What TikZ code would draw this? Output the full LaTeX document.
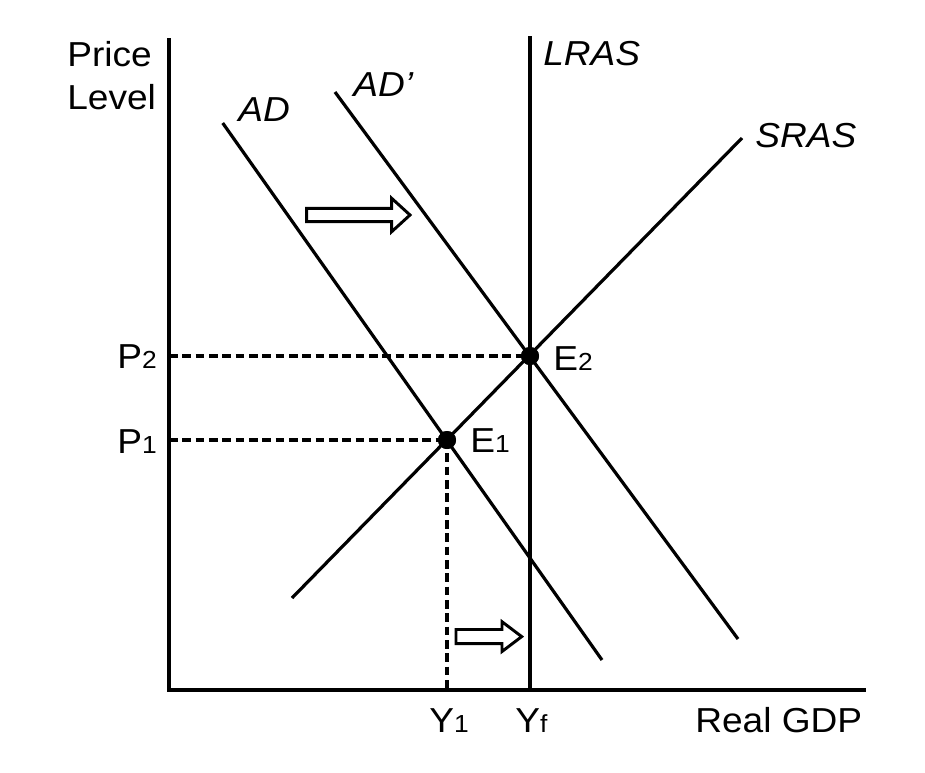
\documentclass[tikz,border=0pt]{standalone}
\usepackage{fontspec}
\setmainfont[FakeStretch=1.07]{Liberation Sans}
\newcommand\subd[1]{{\fontsize{18.5}{20}\selectfont #1}}
\begin{document}
\begin{tikzpicture}[x=0.75pt,y=-0.75pt,
  axis/.style={line width=2.8pt},
  curve/.style={line width=2.4pt},
  guide/.style={line width=2.6pt, dash pattern=on 6.5pt off 3.5pt},
  dot/.style={circle, fill=black, minimum size=13.5pt, inner sep=0pt},
  lbl/.style={anchor=base west, inner sep=0pt, font=\fontsize{26}{30}\selectfont},
  ilbl/.style={lbl, font=\fontsize{26}{30}\selectfont\itshape},
  blockarrow/.style={line width=2.2pt, fill=white, line join=miter}]
\useasboundingbox (0,0) rectangle (925,772);
% axes
\coordinate (ytop) at (169,38);
\coordinate (O) at (169,690);
\coordinate (xend) at (866,690);
\draw[axis] (ytop) -- (O) -- (xend);
% curves
\coordinate (lrasT) at (530,36);
\coordinate (lrasB) at (530,690);
\draw[curve] (lrasT) -- (lrasB);
\coordinate (adT) at (222.7,123);
\coordinate (adB) at (602,660);
\draw[curve] (adT) -- (adB);
\coordinate (adpT) at (335,92);
\coordinate (adpB) at (738,639);
\draw[curve] (adpT) -- (adpB);
\coordinate (srasB) at (292,598);
\coordinate (srasT) at (742,138);
\draw[curve] (srasB) -- (srasT);
% equilibria
\node[dot] (E1) at (447,440) {};
\node[dot] (E2) at (530,356) {};
\coordinate (p2) at (169,356);
\coordinate (p1) at (169,440);
\coordinate (y1) at (447,690);
\draw[guide] (p2) -- (E2.center);
\draw[guide] (p1) -- (E1.center);
\draw[guide] (E1.center) -- (y1);
\node[dot] at (E1) {};
\node[dot] at (E2) {};
% block arrows
\draw[blockarrow] (306.7,208.3) -- (391.7,208.3) -- (391.7,198.3) -- (410,215) -- (391.7,231.7) -- (391.7,221.7) -- (306.7,221.7) -- cycle;
\draw[blockarrow] (456,629.5) -- (502,629.5) -- (502,621.7) -- (521.7,636.6) -- (502,651.5) -- (502,643.7) -- (456,643.7) -- cycle;
% labels
\node[lbl] (price) at (67,66.7) {Price};
\node[lbl] (level) at (67,109) {Level};
\node[ilbl] (adl) at (238,121.7) {AD};
\node[ilbl] (adpl) at (353,96.7) {AD’};
\node[ilbl] (lrasl) at (543,65) {LRAS};
\node[ilbl] (srasl) at (755,147) {SRAS};
\node[lbl] (p2l) at (117,368) {P\subd{2}};
\node[lbl] (p1l) at (117,453) {P\subd{1}};
\node[lbl] (e2l) at (553,370) {E\subd{2}};
\node[lbl] (e1l) at (470,452) {E\subd{1}};
\node[lbl] (y1l) at (429,732) {Y\subd{1}};
\node[lbl] (yfl) at (515,732) {Y\subd{f}};
\node[lbl] (gdp) at (695,732) {Real GDP};
\end{tikzpicture}
\end{document}
